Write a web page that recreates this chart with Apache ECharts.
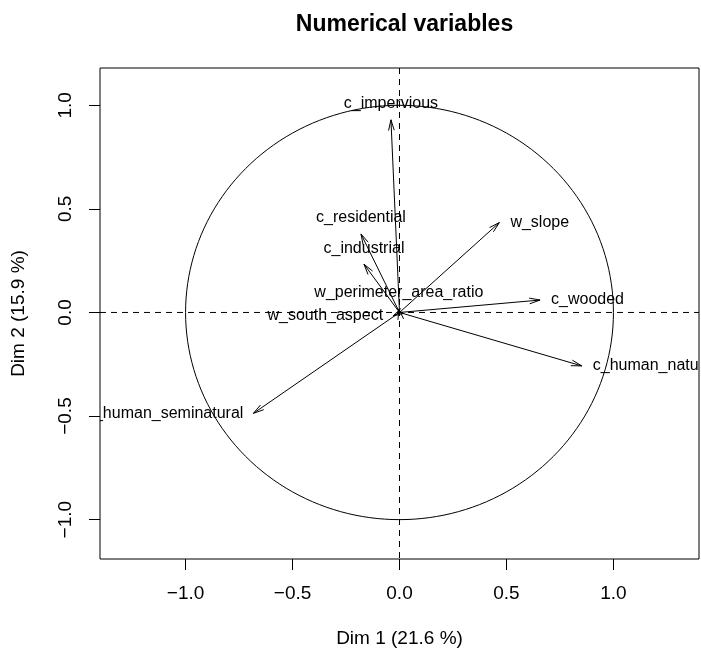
<!DOCTYPE html>
<html>
<head>
<meta charset="utf-8">
<script src="https://cdn.jsdelivr.net/npm/echarts@6/dist/echarts.min.js"></script>
<style>
  html, body { margin: 0; padding: 0; background: #fff; }
  #chart { width: 701px; height: 654px; }
</style>
</head>
<body>
<div id="chart"></div>
<script>
// variable coordinates on the first two dimensions
const varNames = [
  "c_impervious",
  "c_residential",
  "c_industrial",
  "w_slope",
  "w_perimeter_area_ratio",
  "w_south_aspect",
  "c_wooded",
  "c_human_natural",
  "c_human_seminatural",
];
const dim1 = [-0.040, -0.180, -0.166, 0.467, -0.003, -0.030, 0.657, 0.852, -0.683];
const dim2 = [0.930, 0.379, 0.233, 0.434, 0.017, -0.017, 0.060, -0.258, -0.487];
const tickValues = [-1, -0.5, 0, 0.5, 1];

const FONT = "Liberation Sans, Arial, Helvetica, sans-serif";

var chart = echarts.init(document.getElementById("chart"));

function fmt(v) {
  return v.toFixed(1).replace("-", "\u2212");
}

// correlation circle + dashed axes through origin
function renderFrame(params, api) {
  var cs = params.coordSys;
  var pts = [];
  for (var i = 0; i <= 360; i += 2) {
    var a = (i * Math.PI) / 180;
    pts.push(api.coord([Math.cos(a), Math.sin(a)]));
  }
  var o = api.coord([0, 0]);
  var dash = { stroke: "#000", lineWidth: 1, lineDash: [6, 5] };
  return {
    type: "group",
    children: [
      { type: "polyline", shape: { points: pts }, style: { stroke: "#000", lineWidth: 1, fill: null } },
      { type: "line", shape: { x1: cs.x, y1: o[1], x2: cs.x + cs.width, y2: o[1] }, style: dash },
      { type: "line", shape: { x1: o[0], y1: cs.y, x2: o[0], y2: cs.y + cs.height }, style: dash },
    ],
  };
}

function renderArrow(params, api) {
  var x = api.value(0);
  var y = api.value(1);
  var name = varNames[params.dataIndex];
  var o = api.coord([0, 0]);
  var p = api.coord([x, y]);
  var ang = Math.atan2(p[1] - o[1], p[0] - o[0]);
  var hl = 11;
  var ha = (15 * Math.PI) / 180;
  var h1 = [p[0] - hl * Math.cos(ang - ha), p[1] - hl * Math.sin(ang - ha)];
  var h2 = [p[0] - hl * Math.cos(ang + ha), p[1] - hl * Math.sin(ang + ha)];
  // label position like FactoMineR
  var tx = p[0], ty = p[1], align = "center";
  if (Math.abs(x) > Math.abs(y)) {
    if (x >= 0) { tx = p[0] + 11; align = "left"; }
    else { tx = p[0] - 10; align = "right"; }
  } else {
    if (y >= 0) ty = p[1] - 16;
    else ty = p[1] + 16;
  }
  var ls = { stroke: "#000", lineWidth: 1 };
  return {
    type: "group",
    children: [
      { type: "line", shape: { x1: o[0], y1: o[1], x2: p[0], y2: p[1] }, style: ls },
      { type: "line", shape: { x1: p[0], y1: p[1], x2: h1[0], y2: h1[1] }, style: ls },
      { type: "line", shape: { x1: p[0], y1: p[1], x2: h2[0], y2: h2[1] }, style: ls },
      {
        type: "text",
        style: {
          text: name,
          x: tx,
          y: ty,
          align: align,
          verticalAlign: "middle",
          fill: "#000",
          font: "16px " + FONT,
        },
      },
    ],
  };
}

chart.setOption({
  animation: false,
  backgroundColor: "#fff",
  title: {
    text: "Numerical variables",
    left: 399.5,
    textAlign: "center",
    top: 8,
    textStyle: { fontFamily: FONT, fontWeight: "bold", fontSize: 23, color: "#000" },
  },
  grid: {
    left: 100,
    right: 2,
    top: 68,
    bottom: 95,
    show: true,
    borderColor: "#000",
    borderWidth: 1,
  },
  xAxis: {
    type: "value",
    min: -1.4,
    max: 1.4,
    name: "Dim 1 (21.6 %)",
    nameLocation: "middle",
    nameGap: 70,
    nameTextStyle: { fontFamily: FONT, fontSize: 19, color: "#000" },
    axisLine: { show: false, onZero: false },
    axisTick: { show: true, customValues: tickValues, length: 11, lineStyle: { color: "#000" } },
    axisLabel: {
      customValues: tickValues,
      margin: 25,
      fontFamily: FONT,
      fontSize: 19,
      color: "#000",
      formatter: fmt,
    },
    splitLine: { show: false },
  },
  yAxis: {
    type: "value",
    min: -1.19,
    max: 1.18,
    name: "Dim 2 (15.9 %)",
    nameLocation: "middle",
    nameGap: 72,
    nameTextStyle: { fontFamily: FONT, fontSize: 19, color: "#000" },
    axisLine: { show: false, onZero: false },
    axisTick: { show: true, customValues: tickValues, length: 11, lineStyle: { color: "#000" } },
    axisLabel: {
      customValues: tickValues,
      rotate: 90,
      margin: 25,
      fontFamily: FONT,
      fontSize: 19,
      color: "#000",
      formatter: fmt,
    },
    splitLine: { show: false },
  },
  series: [
    {
      type: "custom",
      renderItem: renderFrame,
      data: [[0, 0]],
      clip: true,
      silent: true,
    },
    {
      type: "custom",
      renderItem: renderArrow,
      data: dim1.map(function (v, i) { return [v, dim2[i]]; }),
      clip: true,
      silent: true,
    },
  ],
});
</script>
</body>
</html>
